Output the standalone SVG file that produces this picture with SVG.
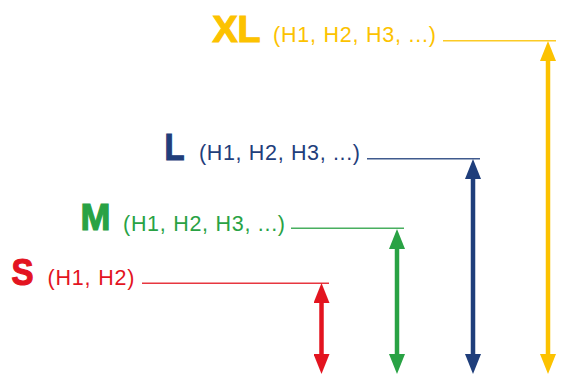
<svg xmlns="http://www.w3.org/2000/svg" width="569" height="374" viewBox="0 0 569 374">
<style>
.big{font-family:"Liberation Sans",Arial,sans-serif;font-weight:bold;font-size:37px;stroke-width:1.2px}
.sm{font-family:"Liberation Sans",Arial,sans-serif;font-size:21.5px}
.lvl{stroke-width:1.5;opacity:0.85}
.arr{stroke-width:4.5;fill:none}
.r{fill:#E3141F;stroke:#E3141F}
.g{fill:#29A244;stroke:#29A244}
.b{fill:#1F3E7B;stroke:#1F3E7B}
.y{fill:#FCC200;stroke:#FCC200}
text.sm{stroke:none}
</style>
<defs>
<marker id="mr" markerUnits="userSpaceOnUse" viewBox="0 0 20 16" markerWidth="20" markerHeight="16" refX="10" refY="8" orient="auto-start-reverse"><path d="M0,0 L20,8 L0,16 z" fill="#E3141F"/></marker>
<marker id="mg" markerUnits="userSpaceOnUse" viewBox="0 0 20 16" markerWidth="20" markerHeight="16" refX="10" refY="8" orient="auto-start-reverse"><path d="M0,0 L20,8 L0,16 z" fill="#29A244"/></marker>
<marker id="mb" markerUnits="userSpaceOnUse" viewBox="0 0 20 16" markerWidth="20" markerHeight="16" refX="10" refY="8" orient="auto-start-reverse"><path d="M0,0 L20,8 L0,16 z" fill="#1F3E7B"/></marker>
<marker id="my" markerUnits="userSpaceOnUse" viewBox="0 0 20 16" markerWidth="20" markerHeight="16" refX="10" refY="8" orient="auto-start-reverse"><path d="M0,0 L20,8 L0,16 z" fill="#FCC200"/></marker>
</defs>
<g id="XL">
<text class="big y" x="212.5" y="42" textLength="48" lengthAdjust="spacingAndGlyphs">XL</text>
<text class="sm y" x="273" y="42" textLength="163">(H1, H2, H3, ...)</text>
</g>
<g id="L">
<text class="big b" x="164.5" y="159.5" textLength="20" lengthAdjust="spacingAndGlyphs">L</text>
<text class="sm b" x="199" y="159.5" textLength="161">(H1, H2, H3, ...)</text>
</g>
<g id="M">
<text class="big g" x="80.5" y="230" textLength="30" lengthAdjust="spacingAndGlyphs">M</text>
<text class="sm g" x="123" y="230.5" textLength="162">(H1, H2, H3, ...)</text>
</g>
<g id="S">
<text class="big r" x="11.5" y="285" textLength="22" lengthAdjust="spacingAndGlyphs">S</text>
<text class="sm r" x="47.5" y="285" textLength="87">(H1, H2)</text>
</g>
<g id="connectors">
<line class="lvl y" x1="443" y1="40.75" x2="556" y2="40.75"/>
<line class="lvl b" x1="367" y1="158.75" x2="480" y2="158.75"/>
<line class="lvl g" x1="291" y1="228.25" x2="404" y2="228.25"/>
<line class="lvl r" x1="142" y1="283.25" x2="329" y2="283.25"/>
<line class="arr r" x1="321.5" y1="293" x2="321.5" y2="364" marker-start="url(#mr)" marker-end="url(#mr)"/>
<line class="arr g" x1="397" y1="239" x2="397" y2="364" marker-start="url(#mg)" marker-end="url(#mg)"/>
<line class="arr b" x1="473" y1="169" x2="473" y2="364" marker-start="url(#mb)" marker-end="url(#mb)"/>
<line class="arr y" x1="548" y1="51" x2="548" y2="364" marker-start="url(#my)" marker-end="url(#my)"/>
</g>
</svg>
